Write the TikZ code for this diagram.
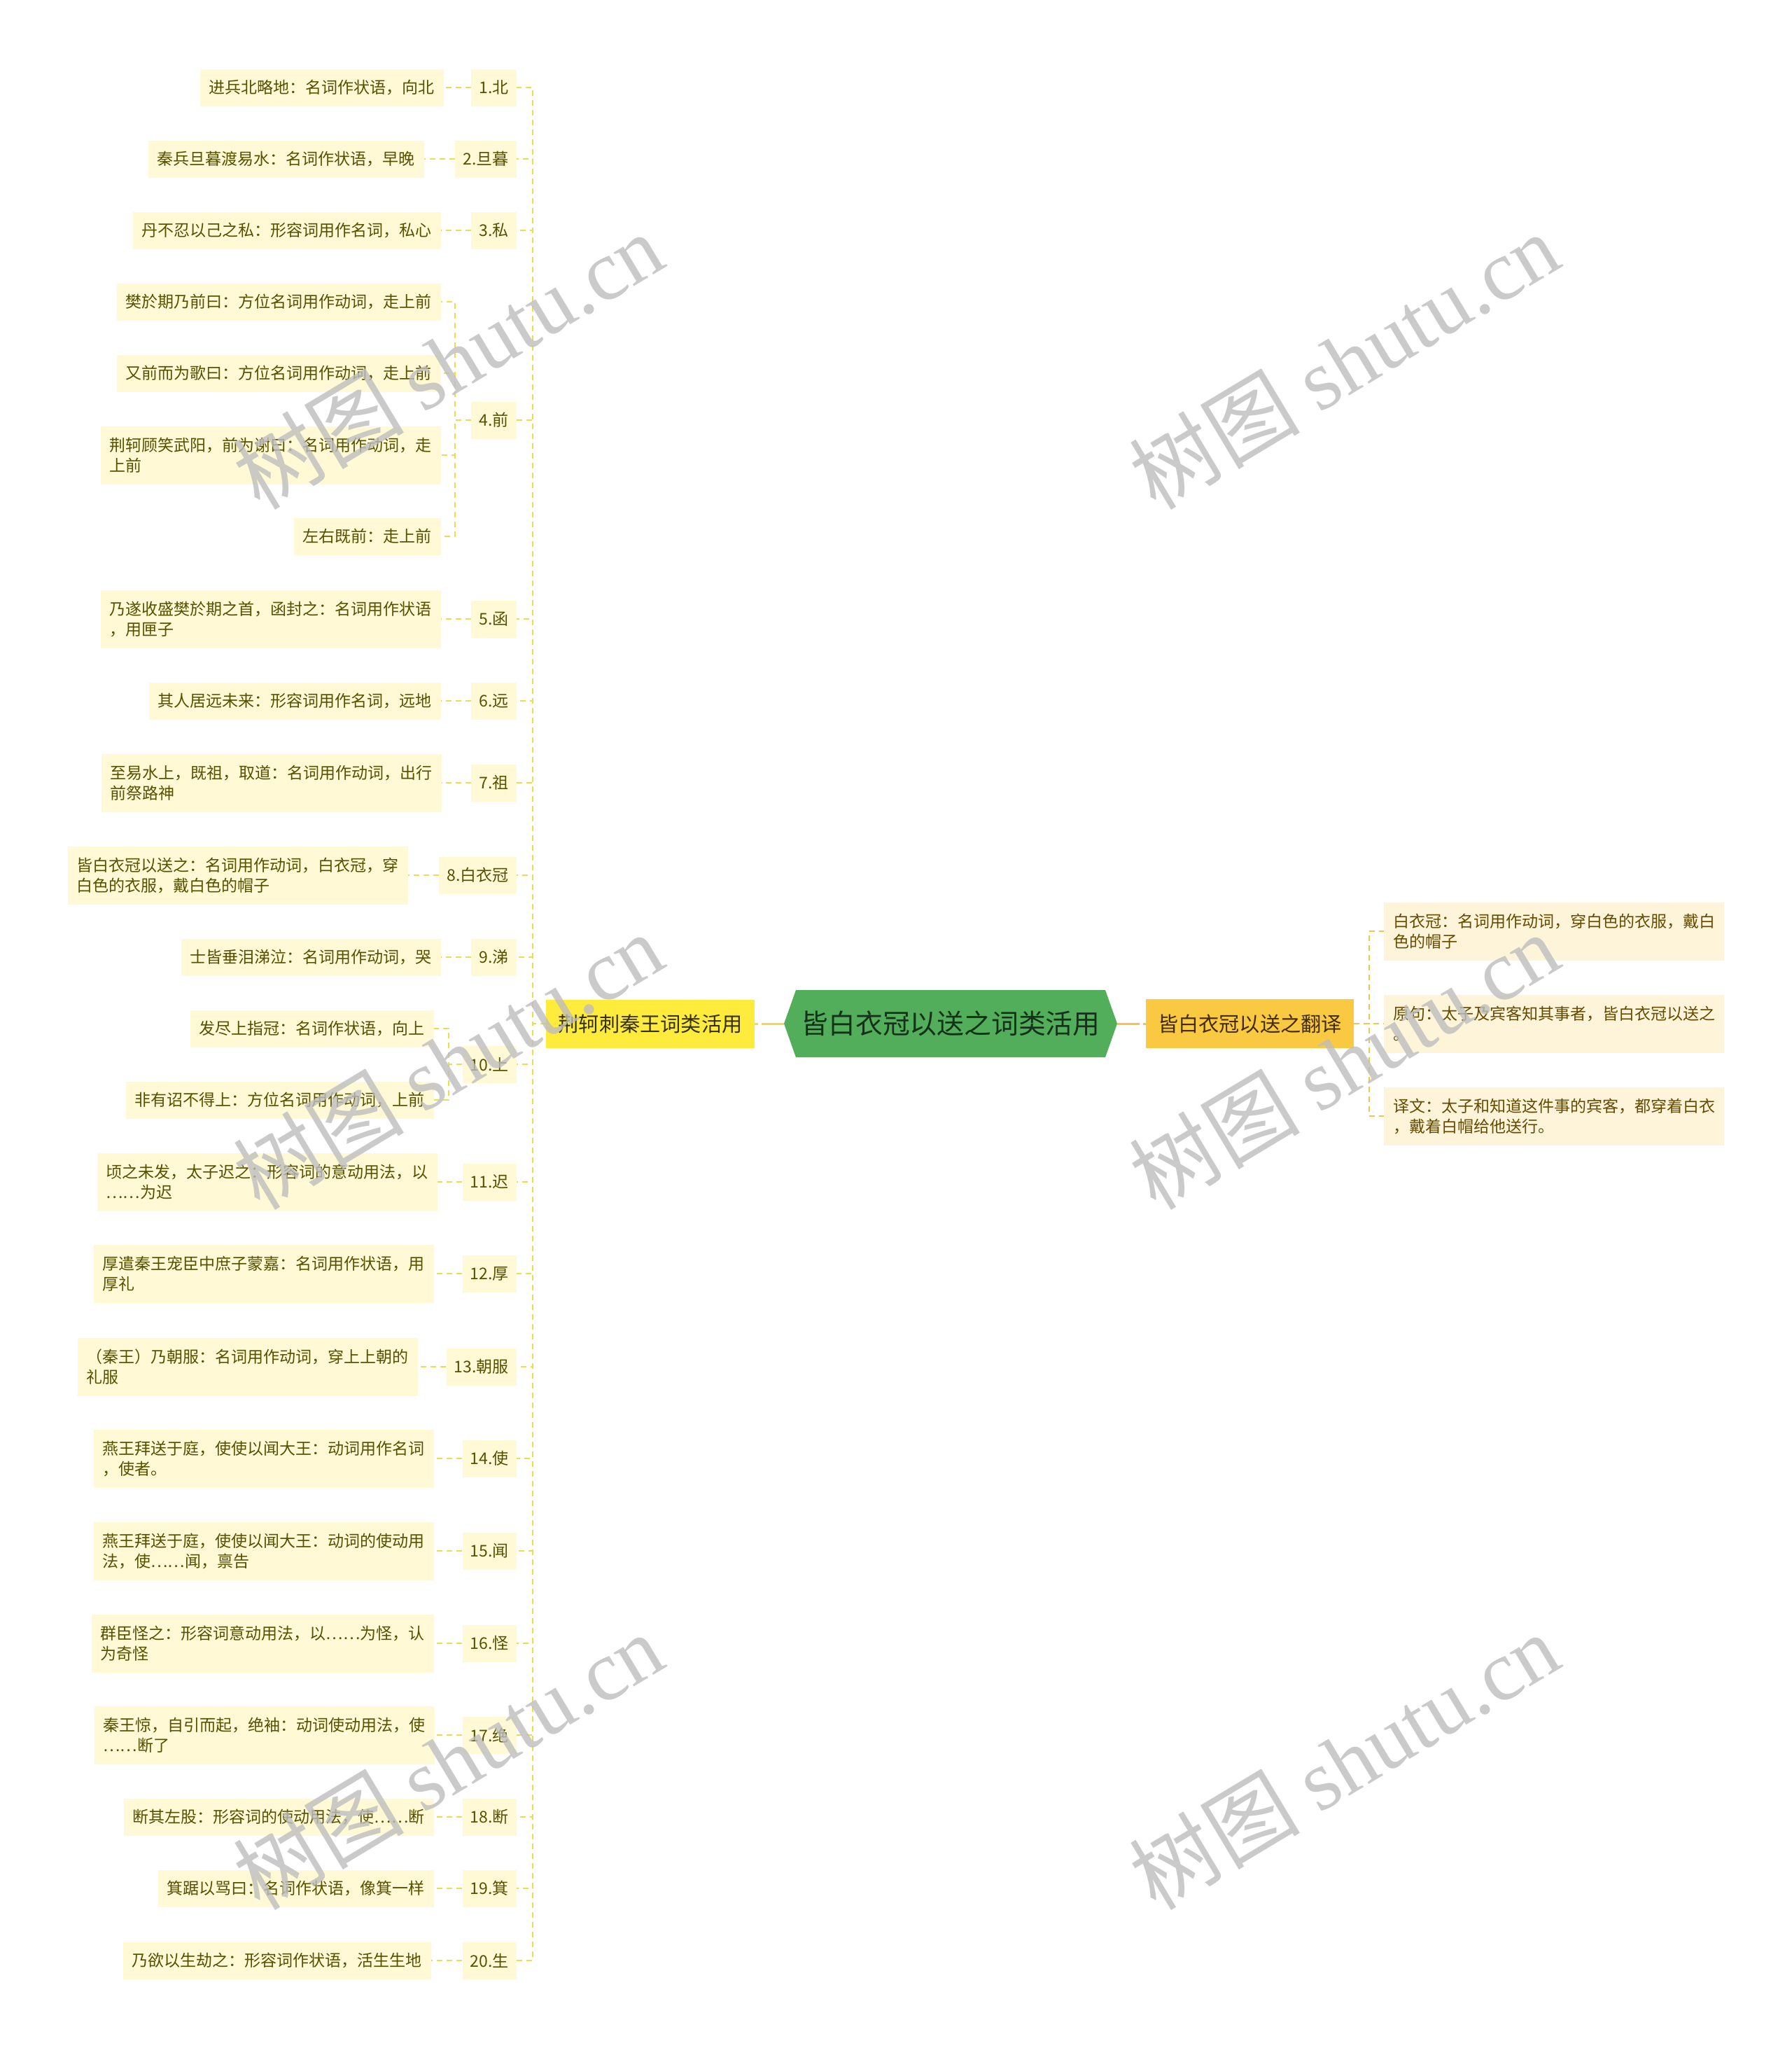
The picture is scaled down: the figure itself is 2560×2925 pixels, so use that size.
\documentclass[tikz,border=0pt]{standalone}
\usepackage{fontspec}
\setmainfont{Noto Sans CJK SC}
\newfontfamily\wmserif{Liberation Serif}
\usetikzlibrary{shapes.symbols}
\definecolor{leaffill}{HTML}{FFF9D6}
\definecolor{leaftext}{HTML}{575000}
\definecolor{rleaffill}{HTML}{FDF4DA}
\definecolor{rleaftext}{HTML}{654A00}
\definecolor{lline}{HTML}{EEDC4A}
\definecolor{rline}{HTML}{F3C64A}
\definecolor{cgreen}{HTML}{52AE5A}
\definecolor{ctext}{HTML}{16301A}
\definecolor{byellow}{HTML}{FFEB3B}
\definecolor{btext}{HTML}{33300E}
\definecolor{borange}{HTML}{F9C942}
\definecolor{botext}{HTML}{432B00}
\definecolor{wmgray}{HTML}{BDBDBD}
\tikzset{
  leaf/.style={fill=leaffill, text=leaftext, font=\fontsize{11.5}{14.5}\selectfont,
    inner xsep=6.5pt, inner ysep=2pt, minimum height=26.5pt, align=left, anchor=east},
  leaftwo/.style={leaf, minimum height=41.5pt},
  numbox/.style={fill=leaffill, text=leaftext, font=\fontsize{11.5}{14.5}\selectfont,
    inner xsep=5.5pt, inner ysep=2pt, minimum height=26.5pt, anchor=east},
  rleaf/.style={fill=rleaffill, text=rleaftext, font=\fontsize{11.5}{14.5}\selectfont,
    inner xsep=6.5pt, inner ysep=2pt, minimum height=41.5pt, align=left, anchor=west},
  lconn/.style={draw=lline, line width=1pt, dash pattern=on 4pt off 3pt},
  rconn/.style={draw=rline, line width=1pt, dash pattern=on 4pt off 3pt},
  cconnl/.style={draw=lline, line width=1.5pt, dash pattern=on 16pt off 2.5pt},
  cconnr/.style={draw=rline, line width=1.5pt, dash pattern=on 16pt off 2.5pt},
  wm/.style={text=wmgray, text opacity=0.8, font=\fontsize{61}{66}\selectfont, rotate=31, inner sep=0pt},
}
\begin{document}
\begin{tikzpicture}[x=0.5pt,y=-0.5pt]
\useasboundingbox (0,0) rectangle (2560,2925);
\fill[white] (0,0) rectangle (2560,2925);

% center
\node[signal, signal to=west and east, signal pointer angle=141, fill=cgreen, text=ctext,
  minimum width=238pt, minimum height=48pt, inner sep=0pt,
  font=\fontsize{19.4}{22}\selectfont] (c) at (1358,1462) {皆白衣冠以送之词类活用};

% branches
\node[fill=byellow, text=btext, font=\fontsize{14.6}{17}\selectfont, minimum width=149pt,
  minimum height=34.5pt, inner sep=0pt] (br) at (929,1462) {荆轲刺秦王词类活用};
\node[fill=borange, text=botext, font=\fontsize{14.6}{17}\selectfont, minimum width=148.5pt,
  minimum height=35pt, inner sep=0pt] (rb) at (1785.5,1462) {皆白衣冠以送之翻译};

\draw[cconnl] (c.west) -- (br.east);
\draw[cconnr] (c.east) -- (rb.west);

% left numbers
\node[numbox] (n1) at (738,125) {1.北};
\node[numbox] (n2) at (738,227) {2.旦暮};
\node[numbox] (n3) at (738,329) {3.私};
\node[numbox] (n4) at (738,600) {4.前};
\node[numbox] (n5) at (738,884) {5.函};
\node[numbox] (n6) at (738,1001) {6.远};
\node[numbox] (n7) at (738,1118) {7.祖};
\node[numbox] (n8) at (738,1250) {8.白衣冠};
\node[numbox] (n9) at (738,1367) {9.涕};
\node[numbox] (n10) at (738,1520) {10.上};
\node[numbox] (n11) at (738,1688) {11.迟};
\node[numbox] (n12) at (738,1819) {12.厚};
\node[numbox] (n13) at (738,1952) {13.朝服};
\node[numbox] (n14) at (738,2083) {14.使};
\node[numbox] (n15) at (738,2215) {15.闻};
\node[numbox] (n16) at (738,2347) {16.怪};
\node[numbox] (n17) at (738,2478) {17.绝};
\node[numbox] (n18) at (738,2595) {18.断};
\node[numbox] (n19) at (738,2697) {19.箕};
\node[numbox] (n20) at (738,2800) {20.生};

% left leaves
\node[leaf] (l1) at (634,125) {进兵北略地：名词作状语，向北};
\node[leaf] (l2) at (606,227) {秦兵旦暮渡易水：名词作状语，早晚};
\node[leaf] (l3) at (630,329) {丹不忍以己之私：形容词用作名词，私心};
\node[leaf] (l4a) at (630,431) {樊於期乃前曰：方位名词用作动词，走上前};
\node[leaf] (l4b) at (630,533) {又前而为歌曰：方位名词用作动词，走上前};
\node[leaftwo] (l4c) at (630,650) {荆轲顾笑武阳，前为谢曰：名词用作动词，走\\上前};
\node[leaf] (l4d) at (630,766) {左右既前：走上前};
\node[leaftwo] (l5) at (630,884) {乃遂收盛樊於期之首，函封之：名词用作状语\\，用匣子};
\node[leaf] (l6) at (630,1001) {其人居远未来：形容词用作名词，远地};
\node[leaftwo] (l7) at (631,1118) {至易水上，既祖，取道：名词用作动词，出行\\前祭路神};
\node[leaftwo] (l8) at (583,1250) {皆白衣冠以送之：名词用作动词，白衣冠，穿\\白色的衣服，戴白色的帽子};
\node[leaf] (l9) at (630,1367) {士皆垂泪涕泣：名词用作动词，哭};
\node[leaf] (l10a) at (620,1469) {发尽上指冠：名词作状语，向上};
\node[leaf] (l10b) at (620,1571) {非有诏不得上：方位名词用作动词，上前};
\node[leaftwo] (l11) at (625,1688) {顷之未发，太子迟之：形容词的意动用法，以\\……为迟};
\node[leaftwo] (l12) at (620,1819) {厚遣秦王宠臣中庶子蒙嘉：名词用作状语，用\\厚礼};
\node[leaftwo] (l13) at (597,1952) {（秦王）乃朝服：名词用作动词，穿上上朝的\\礼服};
\node[leaftwo] (l14) at (620,2083) {燕王拜送于庭，使使以闻大王：动词用作名词\\，使者。};
\node[leaftwo] (l15) at (620,2215) {燕王拜送于庭，使使以闻大王：动词的使动用\\法，使……闻，禀告};
\node[leaftwo] (l16) at (620,2347) {群臣怪之：形容词意动用法，以……为怪，认\\为奇怪};
\node[leaftwo] (l17) at (621,2478) {秦王惊，自引而起，绝袖：动词使动用法，使\\……断了};
\node[leaf] (l18) at (620,2595) {断其左股：形容词的使动用法，使……断};
\node[leaf] (l19) at (620,2697) {箕踞以骂曰：名词作状语，像箕一样};
\node[leaf] (l20) at (616,2800) {乃欲以生劫之：形容词作状语，活生生地};

% trunk connectors
\coordinate (tk) at (761,1462);
\foreach \i in {1,...,20} {
  \draw[lconn] (br.west) -- (tk) |- (n\i.east);
}
% number to leaf
\foreach \i in {1,2,3,5,6,7,8,9,11,12,13,14,15,16,17,18,19,20} {
  \draw[lconn] (n\i.west) -- (l\i.east);
}
% group 4
\coordinate (g4) at (650,600);
\foreach \s in {a,b,c,d} {
  \draw[lconn] (n4.west) -- (g4) |- (l4\s.east);
}
% group 10
\coordinate (g10) at (641,1520);
\foreach \s in {a,b} {
  \draw[lconn] (n10.west) -- (g10) |- (l10\s.east);
}

% right leaves
\node[rleaf] (r1) at (1977,1330) {白衣冠：名词用作动词，穿白色的衣服，戴白\\色的帽子};
\node[rleaf] (r2) at (1977,1462) {原句：太子及宾客知其事者，皆白衣冠以送之\\。};
\node[rleaf] (r3) at (1977,1594) {译文：太子和知道这件事的宾客，都穿着白衣\\，戴着白帽给他送行。};
\coordinate (rk) at (1956,1462);
\foreach \i in {1,2,3} {
  \draw[rconn] (rb.east) -- (rk) |- (r\i.west);
}

% watermarks
\node[wm] (wm1) at (640,515) {树图 {\wmserif shutu.cn}};
\node[wm] (wm2) at (1920,515) {树图 {\wmserif shutu.cn}};
\node[wm] (wm3) at (640,1515) {树图 {\wmserif shutu.cn}};
\node[wm] (wm4) at (1920,1515) {树图 {\wmserif shutu.cn}};
\node[wm] (wm5) at (640,2515) {树图 {\wmserif shutu.cn}};
\node[wm] (wm6) at (1920,2515) {树图 {\wmserif shutu.cn}};
\end{tikzpicture}
\end{document}
